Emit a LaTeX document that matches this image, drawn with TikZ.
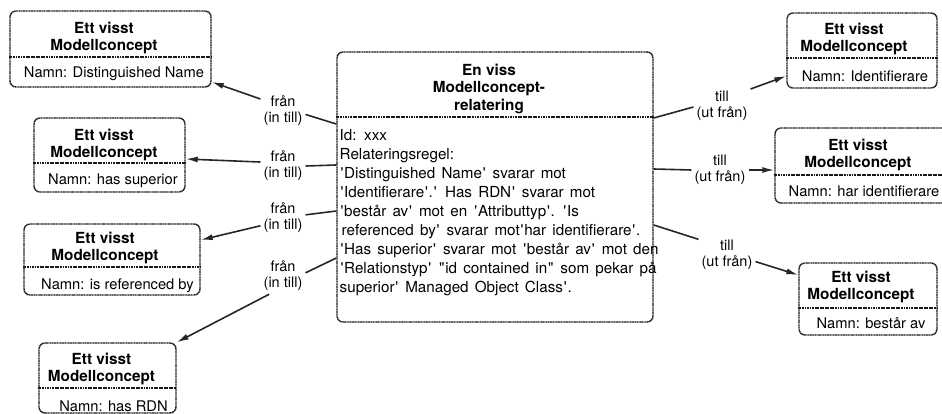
\documentclass[tikz,border=0pt]{standalone}
\usepackage{fontspec}
\setmainfont{TeX Gyre Heros}
\usetikzlibrary{arrows.meta}
\newcommand\sq{\kern0.8pt\textquotesingle\kern0.8pt}
\newcommand\dq{\kern0.8pt\textquotedbl\kern0.8pt}
\newcommand\bodyfont{\fontsize{15.2}{19}\selectfont\spaceskip=6.2pt plus 1pt\relax}
\begin{document}
\begin{tikzpicture}[x=1pt,y=-1pt,
  frame/.style={draw=black!90, line width=1.4pt, dash pattern=on 1.2pt off 0.45pt,
    rounded corners=6pt, inner sep=0pt},
  divline/.style={draw=black!90, line width=1.4pt, dash pattern=on 1.2pt off 0.45pt},
  title/.style={font=\fontsize{15.3}{17}\selectfont\bfseries, align=center, inner sep=0pt},
  namn/.style={font=\fontsize{14.7}{17}\selectfont, inner sep=0pt},
  body/.style={font=\bodyfont, align=left, inner sep=0pt},
  lab/.style={font=\fontsize{14.5}{16}\selectfont, align=center, inner sep=3pt},
  conn/.style={draw=black!85, line width=1.6pt},
  arr/.style={conn, -{Latex[length=12pt,width=6pt]}}
]
\useasboundingbox (0,0) rectangle (942,414);

% central relation box
\node[frame, minimum width=316pt, minimum height=270pt] (rel) at (495,187) {};
\draw[divline] (rel.west |- 0,117) -- (rel.east |- 0,117);
\node[title, font=\fontsize{15.3}{17.5}\selectfont\bfseries] (rel-t) at (489,88.5)
  {En viss\\Modellconcept-\\relatering};
\node[body, anchor=north west] (rel-b) at (339.5,129) {Id: xxx\\
Relateringsregel:\\
\sq Distinguished Name\sq{} svarar mot\\
\sq Identifierare\sq.\sq{} Has RDN\sq{} svarar mot\\
\sq best\r{a}r av\sq{} mot en \sq Attributtyp\sq. \sq Is\\
\hspace*{2pt}referenced by\sq{} svarar mot\sq har identifierare\sq.\\
\sq Has superior\sq{} svarar mot \sq best\r{a}r av\sq{} mot den\\
\sq Relationstyp\sq{} \dq id contained in\dq{} som pekar p\r{a}\\
superior\sq{} Managed Object Class\sq.};

% concept boxes, left column
\node[frame, minimum width=201pt, minimum height=76pt] (bA) at (110.5,49) {};
\draw[divline] (bA.west |- 0,57) -- (bA.east |- 0,57);
\node[title] (bA-t) at (104,37.5) {Ett visst\\Modellconcept};
\node[namn] (bA-n) at (114,74) {Namn: Distinguished Name};

\node[frame, minimum width=151pt, minimum height=74pt] (bB) at (109.5,155) {};
\draw[divline] (bB.west |- 0,163) -- (bB.east |- 0,163);
\node[title] (bB-t) at (104,144.5) {Ett visst\\Modellconcept};
\node[namn] (bB-n) at (113,181) {Namn: has superior};

\node[frame, minimum width=176pt, minimum height=71pt] (bC) at (112,259.5) {};
\draw[divline] (bC.west |- 0,267) -- (bC.east |- 0,267);
\node[title] (bC-t) at (105,247.5) {Ett visst\\Modellconcept};
\node[namn] (bC-n) at (117.5,286) {Namn: is referenced by};

\node[frame, minimum width=137pt, minimum height=70pt] (bD) at (107.5,378) {};
\draw[divline] (bD.west |- 0,388) -- (bD.east |- 0,388);
\node[title] (bD-t) at (101.5,368.5) {Ett visst\\Modellconcept};
\node[namn] (bD-n) at (113.5,406) {Namn: has RDN};

% concept boxes, right column
\node[frame, minimum width=150pt, minimum height=75pt] (bE) at (862,50.5) {};
\draw[divline] (bE.west |- 0,58) -- (bE.east |- 0,58);
\node[title] (bE-t) at (854,38.5) {Ett visst\\Modellconcept};
\node[namn] (bE-n) at (865,76) {Namn: Identifierare};

\node[frame, minimum width=173pt, minimum height=75pt] (bF) at (861.5,165.5) {};
\draw[divline] (bF.west |- 0,175) -- (bF.east |- 0,175);
\node[title] (bF-t) at (858,155) {Ett visst\\Modellconcept};
\node[namn] (bF-n) at (864,191) {Namn: har identifierare};

\node[frame, minimum width=138pt, minimum height=72pt] (bG) at (868,299) {};
\draw[divline] (bG.west |- 0,308) -- (bG.east |- 0,308);
\node[title] (bG-t) at (861,286.5) {Ett visst\\Modellconcept};
\node[namn] (bG-n) at (871,323) {Namn: best\r{a}r av};

% role labels
\node[lab] (lA) at (283,110.5) {fr\r{a}n\\(in till)};
\node[lab] (lB) at (283,166) {fr\r{a}n\\(in till)};
\node[lab] (lC) at (283,218) {fr\r{a}n\\(in till)};
\node[lab] (lD) at (283,276) {fr\r{a}n\\(in till)};
\node[lab] (rA) at (722,105.5) {till\\(ut fr\r{a}n)};
\node[lab] (rB) at (720,170) {till\\(ut fr\r{a}n)};
\node[lab] (rC) at (727,254.5) {till\\(ut fr\r{a}n)};

% connectors
\draw[conn] (lA.-10) -- (rel.west |- 0,124);
\draw[arr] (lA.153) -- (bA.east |- 0,82);
\draw[conn] (lB.east) -- (rel.west |- 0,165);
\draw[arr] (lB.170) -- (bB.east |- 0,159);
\draw[conn] (lC.8) -- (rel.west |- 0,211);
\draw[arr] (lC.199) -- (bC.east |- 0,240);
\draw[conn] (lD.8) -- (rel.west |- 0,258);
\draw[arr] (lD.233) -- (bD.north east);

\draw[conn] (rel.east |- 0,118) -- (rA.183);
\draw[arr] (rA.30) -- (bE.west |- 0,76);
\draw[conn] (rel.east |- 0,169) -- (rB.west);
\draw[arr] (rB.east) -- (bF.west |- rB.east);
\draw[conn] (rel.east |- 0,225) -- (rC.152);
\draw[arr] (rC.-14) -- (bG.west |- 0,275);
\end{tikzpicture}
\end{document}
